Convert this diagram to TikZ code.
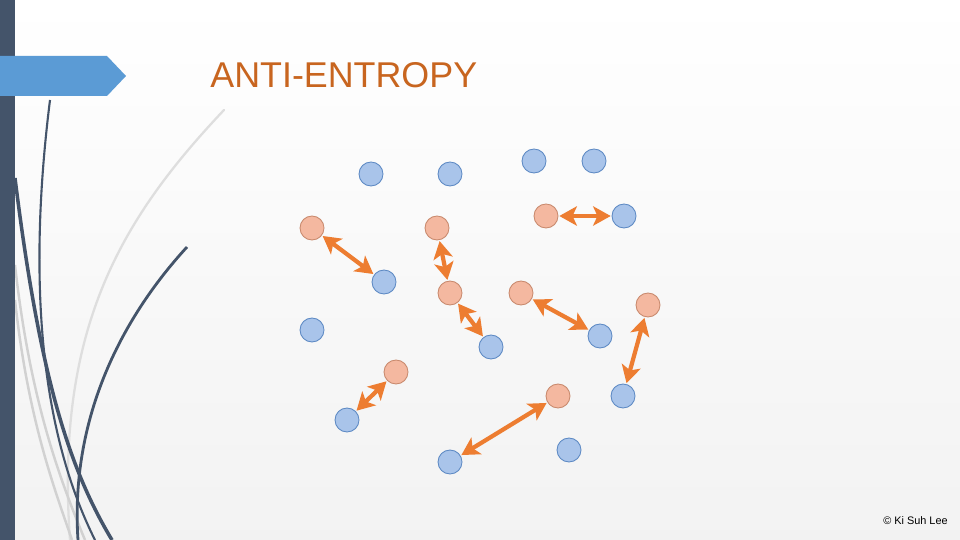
\documentclass[tikz,border=0pt]{standalone}
\usepackage{fontspec}
\setmainfont{Liberation Sans}
\usetikzlibrary{arrows.meta}
\definecolor{barblue}{HTML}{44546A}
\definecolor{tabblue}{HTML}{5B9BD5}
\definecolor{titleorange}{HTML}{C8651F}
\definecolor{arrorange}{HTML}{ED7D31}
\definecolor{nodeblue}{HTML}{A9C4EA}
\definecolor{nodeblueline}{HTML}{5E8AC4}
\definecolor{nodeorange}{HTML}{F4B8A0}
\definecolor{nodeorangeline}{HTML}{C98A6E}
\tikzset{
  peer/.style={circle, minimum size=0.48cm, inner sep=0pt, line width=0.5pt},
  fresh/.style={peer, fill=nodeblue, draw=nodeblueline},
  stale/.style={peer, fill=nodeorange, draw=nodeorangeline},
  sync/.style={{Stealth[length=10pt,width=11pt,inset=2.5pt]}-{Stealth[length=10pt,width=11pt,inset=2.5pt]}, line width=2.4pt, draw=arrorange, shorten <=0.5pt, shorten >=0.5pt}
}
\begin{document}
\begin{tikzpicture}[x=0.02cm, y=-0.02cm]
        \useasboundingbox (0,0) rectangle (960,540);
        \shade[top color=white, bottom color=black!5] (0,0) rectangle (960,540);

        \draw[line width=1.3pt, color=black!13, line cap=round] (224,110) .. controls (120,220) and (55,330) .. (70,540);
        \draw[line width=1.4pt, color=black!18] (15,265) .. controls (30,400) and (60,480) .. (85,540);
        \draw[line width=1.4pt, color=black!18] (15,300) .. controls (28,420) and (55,490) .. (72,540);
        \draw[line width=1.2pt, color=barblue] (50,100) .. controls (30,260) and (35,420) .. (95,540);
        \draw[line width=2pt, color=barblue] (15,178) .. controls (40,380) and (70,470) .. (112,540);
        \draw[line width=1.6pt, color=barblue] (187,247) .. controls (120,320) and (70,420) .. (78,540);

        \fill[color=barblue] (0,0) rectangle (15,540);
        \fill[color=tabblue] (0,56) -- (107,56) -- (126,76) -- (107,96) -- (0,96) -- cycle;

        \node[anchor=base west, text=titleorange, font=\fontsize{20.4}{24}\selectfont, inner sep=0pt] (title) at (210,88) {ANTI-ENTROPY};
        \node[anchor=base east, font=\fontsize{6.2}{7}\selectfont, inner sep=0pt] (credit) at (948,524) {© Ki Suh Lee};

        \node[fresh] (b1) at (371,174) {};
        \node[fresh] (b2) at (450,174) {};
        \node[fresh] (b3) at (534,161) {};
        \node[fresh] (b4) at (594,161) {};
        \node[fresh] (b5) at (624,216) {};
        \node[fresh] (b6) at (384,282) {};
        \node[fresh] (b7) at (312,330) {};
        \node[fresh] (b8) at (491,347) {};
        \node[fresh] (b9) at (600,336) {};
        \node[fresh] (b10) at (623,396) {};
        \node[fresh] (b11) at (347,420) {};
        \node[fresh] (b12) at (569,450) {};
        \node[fresh] (b13) at (450,462) {};

        \node[stale] (o1) at (312,228) {};
        \node[stale] (o2) at (437,228) {};
        \node[stale] (o3) at (546,216) {};
        \node[stale] (o4) at (450,293) {};
        \node[stale] (o5) at (521,293) {};
        \node[stale] (o6) at (648,305) {};
        \node[stale] (o7) at (396,372) {};
        \node[stale] (o8) at (558,396) {};

        \draw[sync] (o1) -- (b6);
        \draw[sync] (o2) -- (o4);
        \draw[sync] (o4) -- (b8);
        \draw[sync] (o3) -- (b5);
        \draw[sync] (o5) -- (b9);
        \draw[sync] (o6) -- (b10);
        \draw[sync] (o7) -- (b11);
        \draw[sync] (o8) -- (b13);
\end{tikzpicture}
\end{document}
